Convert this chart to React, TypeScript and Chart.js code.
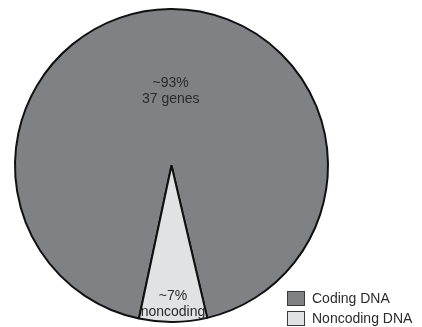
import React, { useEffect, useRef } from "react";
import { Chart, registerables } from "chart.js";

Chart.register(...registerables);

const categories = ["Coding DNA", "Noncoding DNA"];
const shares = [93, 7];
const sliceLabels = [["~93%", "37 genes"], ["~7%", "noncoding"]];
const sliceColors = ["#808185", "#e1e2e4"];

const FONT = "'Liberation Sans', Arial, Helvetica, sans-serif";

const sliceTextPlugin = {
  id: "sliceText",
  afterDatasetsDraw(chart: any) {
    const ctx = chart.ctx;
    const meta = chart.getDatasetMeta(0);
    const fractions = [0.475, 0.885];
    ctx.save();
    ctx.font = `14px ${FONT}`;
    ctx.fillStyle = "#2b2b2b";
    ctx.textAlign = "center";
    ctx.textBaseline = "middle";
    meta.data.forEach((arc: any, i: number) => {
      const { x, y, startAngle, endAngle, outerRadius } = arc.getProps(
        ["x", "y", "startAngle", "endAngle", "outerRadius"],
        true
      );
      const mid = (startAngle + endAngle) / 2;
      const r = outerRadius * fractions[i];
      const cx = x + Math.cos(mid) * r;
      const cy = y + Math.sin(mid) * r;
      const lines = sliceLabels[i];
      const lh = 16.5;
      lines.forEach((t, k) => {
        ctx.fillText(t, cx, cy + (k - (lines.length - 1) / 2) * lh);
      });
    });
    ctx.restore();
  },
};

const legendPlugin = {
  id: "cornerLegend",
  afterDraw(chart: any) {
    const ctx = chart.ctx;
    ctx.save();
    ctx.font = `14px ${FONT}`;
    ctx.textAlign = "left";
    ctx.textBaseline = "middle";
    const x0 = 287.5;
    const y0 = 291.5;
    const step = 20;
    categories.forEach((c, i) => {
      const y = y0 + i * step;
      ctx.fillStyle = sliceColors[i];
      ctx.fillRect(x0, y, 17, 14);
      ctx.strokeStyle = "#3a3a3a";
      ctx.lineWidth = 1;
      ctx.strokeRect(x0, y, 17, 14);
      ctx.fillStyle = "#2b2b2b";
      ctx.fillText(c, 312, y + 7.5);
    });
    ctx.restore();
  },
};

export default function App() {
  const ref = useRef<HTMLCanvasElement>(null);
  useEffect(() => {
    if (!ref.current) return;
    const chart = new Chart(ref.current, {
      type: "pie",
      data: {
        labels: categories,
        datasets: [
          {
            data: shares,
            backgroundColor: sliceColors,
            borderColor: "#111111",
            borderWidth: 2,
          },
        ],
      },
      options: {
        animation: false,
        responsive: false,
        rotation: 192,
        layout: { padding: { left: 14, top: 8, right: 93, bottom: 4 } },
        plugins: {
          legend: { display: false },
          tooltip: { enabled: false },
        },
      },
      plugins: [sliceTextPlugin, legendPlugin],
    });
    return () => chart.destroy();
  }, []);
  return (
    <div style={{ position: "fixed", left: 0, top: 0, width: 422, height: 327, background: "#ffffff" }}>
      <canvas ref={ref} width={422} height={327} style={{ display: "block", width: 422, height: 327 }} />
    </div>
  );
}
